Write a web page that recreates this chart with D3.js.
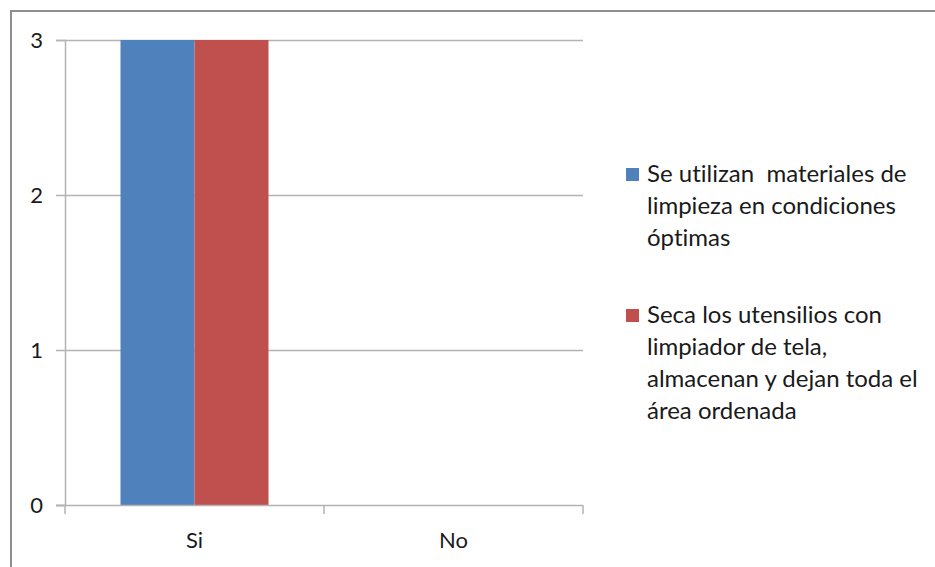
<!DOCTYPE html>
<html>
<head>
<meta charset="utf-8">
<script src="https://cdn.jsdelivr.net/npm/d3@7"></script>
<style>
  html, body { margin: 0; padding: 0; background: #fff; }
  svg { display: block; }
  text { font-family: Lato, "Open Sans", sans-serif; fill: #1a1a1a; font-variant-ligatures: none; white-space: pre; }
</style>
</head>
<body>
<svg id="chart" width="935" height="567"></svg>
<script>
// Chart data
const categories = ["Si", "No"];
const seriesNames = [
  "Se utilizan  materiales de limpieza en condiciones óptimas",
  "Seca los utensilios con limpiador de tela, almacenan y dejan toda el área ordenada"
];
const seriesValues = [
  [3, 0],
  [3, 0]
];
const legendLines = [
  ["Se utilizan  materiales de", "limpieza en condiciones", "óptimas"],
  ["Seca los utensilios con", "limpiador de tela,", "almacenan y dejan toda el", "área ordenada"]
];
const yTicks = [0, 1, 2, 3];
const colors = ["#4F81BD", "#C0504D"];

const svg = d3.select("#chart");

// Outer frame
svg.append("path")
  .attr("d", "M11,567 L11,11 L935,11")
  .attr("fill", "none")
  .attr("stroke", "#8e8e8e")
  .attr("stroke-width", 2);

const plot = { left: 65, right: 583, top: 40, bottom: 505 };

const y = d3.scaleLinear().domain([0, 3]).range([plot.bottom, plot.top]);
const x0 = d3.scaleBand().domain(categories).range([plot.left, plot.right]);
const x1 = d3.scaleBand().domain(d3.range(seriesValues.length))
  .range([0, x0.bandwidth()]).paddingOuter(0.75).paddingInner(0);

// Gridlines
svg.append("g")
  .selectAll("line")
  .data(yTicks.filter(d => d > 0))
  .join("line")
  .attr("x1", plot.left).attr("x2", plot.right)
  .attr("y1", d => y(d) + 0.5).attr("y2", d => y(d) + 0.5)
  .attr("stroke", "#b3b3b3").attr("stroke-width", 1.5);

// Bars
const groups = svg.append("g")
  .selectAll("g")
  .data(categories)
  .join("g")
  .attr("transform", d => `translate(${x0(d)},0)`);

groups.selectAll("rect")
  .data((c, ci) => seriesValues.map((vals, si) => ({ si, v: vals[ci] })))
  .join("rect")
  .attr("x", d => x1(d.si))
  .attr("width", x1.bandwidth())
  .attr("y", d => y(d.v))
  .attr("height", d => plot.bottom - y(d.v))
  .attr("fill", d => colors[d.si]);

// Y axis
const yAxis = svg.append("g")
  .attr("transform", `translate(${plot.left},0)`)
  .call(d3.axisLeft(y).tickValues(yTicks).tickFormat(d3.format("d")).tickSize(9).tickPadding(13));
yAxis.select(".domain").attr("stroke", "#b3b3b3").attr("stroke-width", 1.5);
yAxis.selectAll(".tick line").attr("stroke", "#b3b3b3").attr("stroke-width", 1.5);
yAxis.selectAll(".tick text").attr("font-size", 22).attr("font-family", "Lato, sans-serif").attr("fill", "#1a1a1a");

// X axis
const xEdges = d3.scaleLinear().domain([0, categories.length]).range([plot.left, plot.right]);
const xAxis = svg.append("g")
  .attr("transform", `translate(0,${plot.bottom})`);
xAxis.append("line")
  .attr("x1", plot.left - 9).attr("x2", plot.right)
  .attr("y1", 0.5).attr("y2", 0.5)
  .attr("stroke", "#b3b3b3").attr("stroke-width", 1.5);
xAxis.selectAll("line.tk")
  .data(d3.range(categories.length + 1))
  .join("line")
  .attr("class", "tk")
  .attr("x1", d => xEdges(d)).attr("x2", d => xEdges(d))
  .attr("y1", 0).attr("y2", 9)
  .attr("stroke", "#b3b3b3").attr("stroke-width", 1.5);
xAxis.selectAll("text")
  .data(categories)
  .join("text")
  .attr("x", d => x0(d) + x0.bandwidth() / 2)
  .attr("y", 43)
  .attr("text-anchor", "middle")
  .attr("font-size", 22)
  .text(d => d);

// Legend
const legendTop = [173, 314];
const lineH = 32;
const legend = svg.append("g");
seriesNames.forEach((name, i) => {
  const g = legend.append("g").attr("class", "legend-item");
  g.append("rect")
    .attr("x", 626).attr("y", legendTop[i] - 5)
    .attr("width", 13).attr("height", 13)
    .attr("fill", colors[i]);
  g.append("text")
    .attr("x", 647)
    .attr("y", legendTop[i] + 9)
    .attr("font-size", 24)
    .selectAll("tspan")
    .data(legendLines[i])
    .join("tspan")
    .attr("x", 647)
    .attr("dy", (d, j) => j === 0 ? 0 : lineH)
    .text(d => d);
});
</script>
</body>
</html>
